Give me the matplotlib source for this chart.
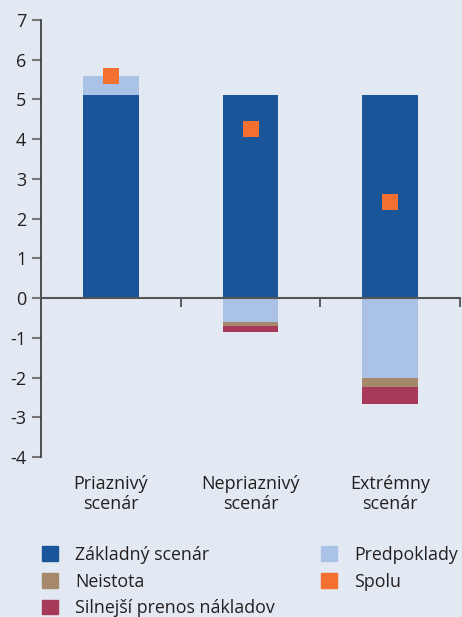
import matplotlib
matplotlib.use("Agg")
import matplotlib.pyplot as plt
from matplotlib.patches import Patch
import numpy as np

plt.rcParams["font.family"] = ["Open Sans", "DejaVu Sans"]
plt.rcParams["axes.unicode_minus"] = False

categories = ["Priaznivý\nscenár", "Nepriaznivý\nscenár", "Extrémny\nscenár"]
zakladny = [5.1, 5.1, 5.1]
predpoklady = [0.5, -0.6, -2.0]
neistota = [0.0, -0.1, -0.25]
silnejsi = [0.0, -0.15, -0.42]
spolu = [5.6, 4.25, 2.43]
yticks = [-4, -3, -2, -1, 0, 1, 2, 3, 4, 5, 6, 7]

bg = "#e2e9f2"
c_base = "#1a5599"
c_pred = "#aac2e6"
c_neis = "#a6896a"
c_siln = "#a63a58"
c_spolu = "#f47030"
text_c = "#231f20"
fs = 13

fig = plt.figure(figsize=(4.62, 6.17), dpi=100, facecolor=bg)
ax = fig.add_axes([41 / 462, 1 - 457 / 617, 419 / 462, 437 / 617], facecolor=bg)

x = np.arange(len(categories))
w = 0.4

ax.bar(x, zakladny, w, color=c_base, zorder=2)

# positive contributions stack on top of the baseline, negative ones below zero
pos_bottom = np.array(zakladny, dtype=float)
neg_bottom = np.zeros(len(x))
for vals, col in [(predpoklady, c_pred), (neistota, c_neis), (silnejsi, c_siln)]:
    vals = np.array(vals, dtype=float)
    bottoms = np.where(vals >= 0, pos_bottom, neg_bottom)
    ax.bar(x, vals, w, bottom=bottoms, color=col, zorder=2)
    pos_bottom = pos_bottom + np.where(vals > 0, vals, 0)
    neg_bottom = neg_bottom + np.where(vals < 0, vals, 0)

ax.plot(x, spolu, linestyle="none", marker="s", markersize=11.5,
        color=c_spolu, markeredgewidth=0, zorder=3)

ax.set_xlim(-0.5, 2.5)
ax.set_ylim(-4, 7)
ax.set_yticks(yticks)
ax.set_yticklabels([str(t) for t in yticks])

for s in ["top", "right"]:
    ax.spines[s].set_visible(False)
ax.spines["left"].set_color("#333333")
ax.spines["left"].set_linewidth(1.2)
ax.spines["bottom"].set_position(("data", 0))
ax.spines["bottom"].set_color("#555555")
ax.spines["bottom"].set_linewidth(1.5)
ax.spines["bottom"].set_zorder(4)

ax.set_xticks([0.5, 1.5, 2.5])
ax.set_xticklabels([])
ax.tick_params(axis="x", direction="out", length=6.5, width=1.2, color="#444444")
ax.tick_params(axis="y", direction="out", length=6.5, width=1.5, color="#777777",
               labelsize=fs, labelcolor=text_c, pad=4)

for xi, lab in zip(x, categories):
    ax.text(xi, -4.45, lab, ha="center", va="top", fontsize=fs,
            color=text_c, linespacing=1.15)

handles = [
    Patch(color=c_base, label="Základný scenár"),
    Patch(color=c_neis, label="Neistota"),
    Patch(color=c_siln, label="Silnejší prenos nákladov"),
    Patch(color=c_pred, label="Predpoklady"),
    Patch(color=c_spolu, label="Spolu"),
]
fig.legend(handles=handles, ncol=2, loc="upper left",
           bbox_to_anchor=(42 / 462, 1 - 546 / 617), frameon=False,
           fontsize=12.8, handlelength=0.9, handleheight=0.9,
           handletextpad=0.95, labelspacing=0.48, columnspacing=2.62,
           labelcolor=text_c, borderaxespad=0, borderpad=0)

fig.savefig("out.png", dpi=100, facecolor=bg)
